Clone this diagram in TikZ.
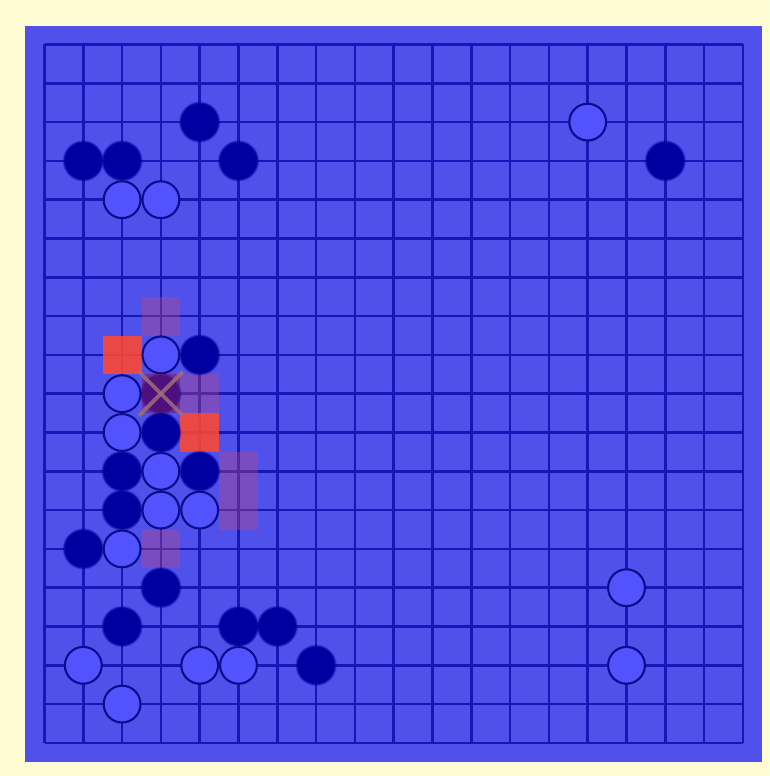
\documentclass[tikz,border=0pt]{standalone}
\definecolor{cream}{RGB}{255,252,212}
\definecolor{board}{RGB}{80,80,235}
\definecolor{gridc}{RGB}{22,22,185}
\definecolor{darkst}{RGB}{0,0,160}
\definecolor{lightst}{RGB}{82,82,255}
\definecolor{stline}{RGB}{12,12,140}
\definecolor{redmk}{RGB}{255,72,48}
\definecolor{purmk}{RGB}{190,70,120}
\definecolor{xsq}{RGB}{90,0,90}
\definecolor{xmk}{RGB}{160,110,120}
\tikzset{
  gridline/.style={gridc, line width=2.6pt},
  redsq/.style={fill=redmk, fill opacity=0.88},
  pursq/.style={fill=purmk, fill opacity=0.38},
  darkstone/.style={fill=darkst},
  lightstone/.style={fill=lightst, draw=stline, line width=2.1pt},
  xline/.style={draw=xmk, draw opacity=0.85, line width=3.8pt},
}
\newcommand{\gx}[1]{44.5+38.8*#1}
\begin{document}
\begin{tikzpicture}[x=1pt,y=-1pt]
\fill[cream] (0,0) rectangle (769,776);
\useasboundingbox (0,0) rectangle (769,776);
\fill[board] (25,26) rectangle (762,762);
\foreach \i in {0,...,18} {
  \draw[gridline] ({\gx{\i}},44.5) -- ({\gx{\i}},743);
  \draw[gridline] (44.5,{\gx{\i}}) -- (743,{\gx{\i}});
}
% marked squares under stones
\foreach \c/\r in {2/8,4/10} {
  \fill[redsq] ({\gx{\c}-19.4},{\gx{\r}-19.4}) rectangle ({\gx{\c}+19.4},{\gx{\r}+19.4});
}
\foreach \c/\r in {3/7,4/9,5/11,5/12,3/13} {
  \fill[pursq] ({\gx{\c}-19.4},{\gx{\r}-19.4}) rectangle ({\gx{\c}+19.4},{\gx{\r}+19.4});
}
% dark stones
\foreach \c/\r in {4/2,1/3,2/3,5/3,16/3,4/8,3/9,3/10,2/11,4/11,2/12,1/13,3/14,2/15,5/15,6/15,7/16} {
  \fill[darkst, opacity=0.3] ({\gx{\c}},{\gx{\r}}) circle (20.6);
  \fill[darkst, opacity=0.6] ({\gx{\c}},{\gx{\r}}) circle (19.6);
  \fill[darkstone] ({\gx{\c}},{\gx{\r}}) circle (18.6);
}
% light stones
\foreach \c/\r in {14/2,2/4,3/4,3/8,2/9,2/10,3/11,3/12,4/12,2/13,15/14,1/16,4/16,5/16,15/16,2/17} {
  \draw[lightstone] ({\gx{\c}},{\gx{\r}}) circle (18.4);
}
% marked stone with cross
\coordinate (xc) at ({\gx{3}},{\gx{9}});
\fill[pursq] ([shift={(-19.4,-19.4)}]xc) rectangle ([shift={(19.4,19.4)}]xc);
\fill[xsq, fill opacity=0.35] ([shift={(-19.4,-19.4)}]xc) rectangle ([shift={(19.4,19.4)}]xc);
\draw[xline] ([shift={(-22,-22)}]xc) -- ([shift={(22,22)}]xc);
\draw[xline] ([shift={(-22,22)}]xc) -- ([shift={(22,-22)}]xc);
\end{tikzpicture}
\end{document}
